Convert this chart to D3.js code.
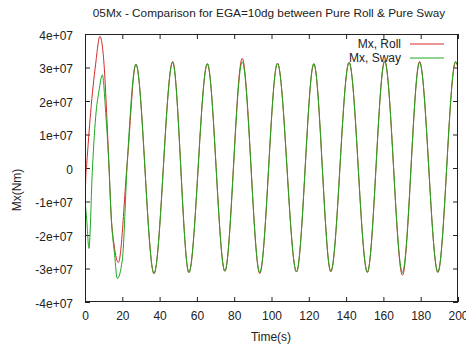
<html lang="en">
<head>
<meta charset="UTF-8">
<title>05Mx comparison</title>
<script src="https://d3js.org/d3.v7.min.js"></script>
<style>
  body { margin: 0; background: #fff; }
  text { font-family: "Liberation Sans", Arial, sans-serif; fill: #222; }
  .tick line { stroke: #222; }
</style>
</head>
<body>
<svg width="466" height="345"></svg>
<script>
// time (s) and Mx (Nm)
var rollTime = [0, 0.4, 0.9, 3.0, 5.7, 8.0, 10.2, 11.6, 12.9, 14.0, 15.6, 17.9, 22.7, 27.3,
    37.0, 47.0, 55.7, 65.6, 75.0, 84.3, 93.7, 103.2, 113.4, 122.7, 131.8, 141.6, 151.4, 160.7, 170.2, 179.4, 189.2, 198.7, 200];
var rollMx = [-1.5e7, -0.3e7, 0.1e7, 1.65e7, 3.1e7, 3.93e7, 3.1e7, 1.65e7, 0.0, -1.4e7, -2.3e7, -2.82e7, 0.2e7, 3.1e7,
    -3.15e7, 3.18e7, -3.12e7, 3.1e7, -3.08e7, 3.27e7, -3.15e7, 3.13e7, -3.1e7, 3.1e7, -3.1e7, 3.15e7, -3.12e7, 3.2e7, -3.2e7, 3.18e7, -3.12e7, 3.15e7, 3.0e7];

var swayTime = [0, 1.0, 2.1, 4.0, 6.0, 7.5, 9.3, 11.1, 12.9, 14.0, 15.9, 17.3, 20.0, 22.7, 27.3,
    37.0, 47.0, 55.7, 65.6, 75.0, 84.3, 93.7, 103.2, 113.4, 122.7, 131.8, 141.6, 151.4, 160.7, 170.2, 179.4, 189.2, 198.7, 200];
var swayMx = [-0.95e7, -1.6e7, -2.4e7, 0.0, 1.7e7, 2.3e7, 2.78e7, 1.65e7, 0.0, -1.4e7, -2.6e7, -3.3e7, -2.75e7, 0.2e7, 3.1e7,
    -3.15e7, 3.15e7, -3.12e7, 3.12e7, -3.08e7, 3.17e7, -3.12e7, 3.12e7, -3.1e7, 3.12e7, -3.08e7, 3.15e7, -3.1e7, 3.18e7, -3.12e7, 3.15e7, -3.1e7, 3.18e7, 3.05e7];

var xTicks = [0, 20, 40, 60, 80, 100, 120, 140, 160, 180, 200];
var yTicks = [-4e7, -3e7, -2e7, -1e7, 0, 1e7, 2e7, 3e7, 4e7];
var yTickLabels = ["-4e+07", "-3e+07", "-2e+07", "-1e+07", "0", "1e+07", "2e+07", "3e+07", "4e+07"];
var seriesNames = ["Mx, Roll", "Mx, Sway"];
var seriesColors = ["#d62a2a", "#1fa81f"];

var svg = d3.select("svg"),
    plotLeft = 85, plotRight = 458, plotTop = 34, plotBottom = 302;

var x = d3.scaleLinear().domain([0, 200]).range([plotLeft, plotRight]),
    y = d3.scaleLinear().domain([-4e7, 4e7]).range([plotBottom, plotTop]);

svg.append("rect").attr("width", 466).attr("height", 345).attr("fill", "#fff");

svg.append("clipPath").attr("id", "clip")
    .append("rect").attr("x", plotLeft).attr("y", plotTop)
    .attr("width", plotRight - plotLeft).attr("height", plotBottom - plotTop);

// axes, ticks pointing inward (mirrored on top/right)
var xAxis = svg.append("g").attr("transform", "translate(0," + plotBottom + ")")
    .call(d3.axisBottom(x).tickValues(xTicks).tickSizeInner(-5).tickSizeOuter(0).tickPadding(9));
var yAxis = svg.append("g").attr("transform", "translate(" + plotLeft + ",0)")
    .call(d3.axisLeft(y).tickValues(yTicks).tickSizeInner(-5).tickSizeOuter(0).tickPadding(12)
        .tickFormat(function (d, i) { return yTickLabels[i]; }));
svg.append("g").attr("transform", "translate(0," + plotTop + ")")
    .call(d3.axisTop(x).tickValues(xTicks).tickSizeInner(-5).tickSizeOuter(0).tickFormat(""));
svg.append("g").attr("transform", "translate(" + plotRight + ",0)")
    .call(d3.axisRight(y).tickValues(yTicks).tickSizeInner(-5).tickSizeOuter(0).tickFormat(""));

svg.selectAll(".domain").remove();
svg.selectAll(".tick text").attr("font-size", 12).attr("font-family", null).style("fill", "#222");
yAxis.selectAll(".tick text").attr("dy", "0.42em");

var line = d3.line()
    .x(function (d) { return x(d[0]); })
    .y(function (d) { return y(d[1]); })
    .curve(d3.curveMonotoneX);

var series = [d3.zip(rollTime, rollMx), d3.zip(swayTime, swayMx)];

svg.append("g").attr("clip-path", "url(#clip)")
    .selectAll("path")
    .data(series)
    .enter().append("path")
    .attr("fill", "none")
    .attr("stroke", function (d, i) { return seriesColors[i]; })
    .attr("stroke-width", 1)
    .attr("d", line);

// frame
svg.append("rect")
    .attr("x", plotLeft + 0.5).attr("y", plotTop + 0.5)
    .attr("width", plotRight - plotLeft - 1).attr("height", plotBottom - plotTop - 1)
    .attr("fill", "none").attr("stroke", "#222");

// legend
var legend = svg.append("g").selectAll("g")
    .data(seriesNames)
    .enter().append("g")
    .attr("transform", function (d, i) { return "translate(0," + (44 + i * 14) + ")"; });
legend.append("text")
    .attr("x", 401).attr("dy", "0.36em")
    .attr("text-anchor", "end").attr("font-size", 12)
    .text(function (d) { return d; });
legend.append("line")
    .attr("x1", 410).attr("x2", 444)
    .attr("stroke", function (d, i) { return seriesColors[i]; });

// titles
svg.append("text")
    .attr("x", 269).attr("y", 17)
    .attr("text-anchor", "middle").attr("font-size", 11.8)
    .text("05Mx - Comparison for EGA=10dg between Pure Roll & Pure Sway");
svg.append("text")
    .attr("x", 271).attr("y", 341)
    .attr("text-anchor", "middle").attr("font-size", 12)
    .text("Time(s)");
svg.append("text")
    .attr("transform", "translate(21,190) rotate(-90)")
    .attr("text-anchor", "middle").attr("font-size", 12)
    .text("Mx(Nm)");
</script>
</body>
</html>
